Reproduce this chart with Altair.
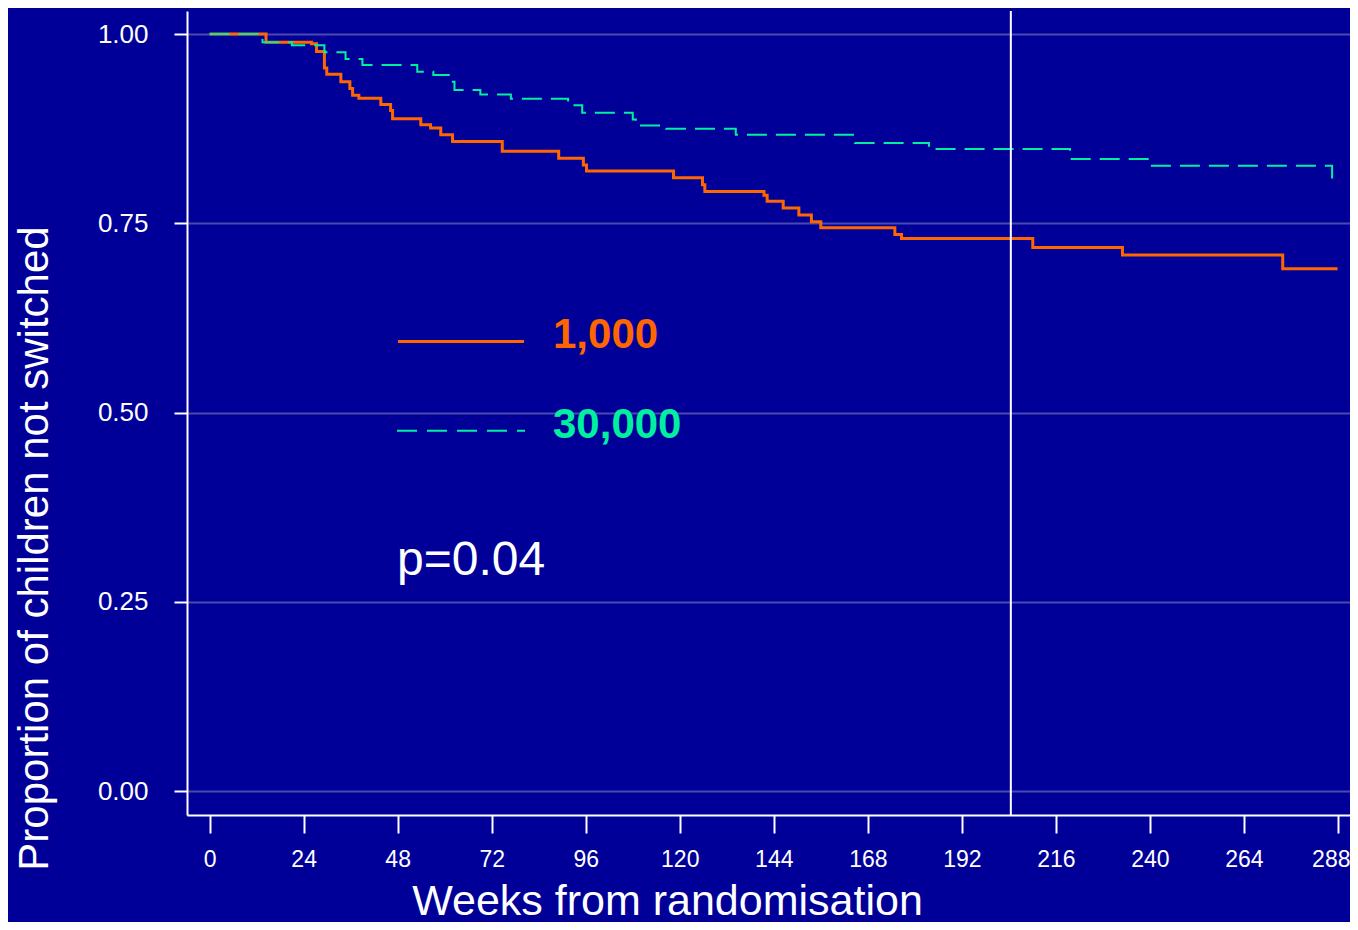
import altair as alt
import pandas as pd

# ---- data ----
low_weeks = [0, 14.4, 26.0, 27.3, 29.3, 29.9, 33.5, 35.8, 36.5, 38.1, 43.7, 46.2, 46.7,
             53.9, 56.4, 59.0, 62.0, 74.7, 89.1, 95.4, 96.2, 118.4, 125.8, 126.4,
             141.5, 142.3, 146.4, 150.4, 153.6, 156.0, 174.9, 176.6, 210.1, 233.0,
             273.9, 287.9]
low_surv = [1.0, 0.989, 0.987, 0.977, 0.955, 0.947, 0.937, 0.928, 0.919, 0.915, 0.907,
            0.899, 0.888, 0.880, 0.876, 0.867, 0.858, 0.845, 0.836, 0.827, 0.819, 0.810,
            0.801, 0.792, 0.787, 0.779, 0.770, 0.761, 0.752, 0.744, 0.735, 0.730, 0.718,
            0.708, 0.690, 0.690]

high_weeks = [0, 12.3, 13.5, 21.0, 29.3, 34.7, 39.0, 53.0, 57.1, 61.8, 62.5, 69.1, 76.9,
              91.5, 95.1, 108.0, 108.8, 116.5, 134.3, 164.7, 183.6, 219.6, 240.0, 286.5]
high_surv = [1.0, 0.995, 0.989, 0.985, 0.976, 0.967, 0.959, 0.950, 0.946, 0.937, 0.926,
             0.920, 0.9145, 0.906, 0.896, 0.887, 0.879, 0.875, 0.867, 0.856, 0.848, 0.835,
             0.826, 0.803]

ref_week = [204.5]
x_ticks = [0, 24, 48, 72, 96, 120, 144, 168, 192, 216, 240, 264, 288]
y_ticks = [0.0, 0.25, 0.50, 0.75, 1.00]
legend_labels = ["1,000", "30,000"]
p_label = ["p=0.04"]
x_title = "Weeks from randomisation"
y_title = "Proportion of children not switched"

BG = "#000099"
ORANGE = "#FF6600"
GREEN = "#00F0A0"
FONT = "Liberation Sans"

low_df = pd.DataFrame({"week": low_weeks, "surv": low_surv})
high_df = pd.DataFrame({"week": high_weeks, "surv": high_surv})
ref_df = pd.DataFrame({"week": ref_week})

x_scale = alt.Scale(domain=[-5.77, 291.07], nice=False, zero=False)
y_scale = alt.Scale(domain=[-0.0317, 1.0304], nice=False, zero=False)

x_axis = alt.Axis(values=x_ticks, title=x_title, grid=False,
                  labelFont=FONT, labelFontSize=23, labelColor="white",
                  labelPadding=15, tickSize=18, tickWidth=2, tickColor="white",
                  labelFlush=15, labelFlushOffset=12,
                  domainColor="white", domainWidth=2,
                  titleFont=FONT, titleFontSize=43, titleFontWeight="normal",
                  titleColor="white", titleX=480, titleY=99,
                  titleBaseline="alphabetic", titleAlign="center")
y_axis = alt.Axis(values=y_ticks, format=".2f", title=y_title, grid=True,
                  gridColor="#4A4AAE", gridWidth=2,
                  labelFont=FONT, labelFontSize=26, labelColor="white",
                  labelPadding=26, tickSize=13, tickWidth=2, tickColor="white",
                  domainColor="white", domainWidth=2,
                  titleFont=FONT, titleFontSize=42, titleFontWeight="normal",
                  titleColor="white", titleX=-140, titleY=537, titleAngle=270,
                  titleBaseline="alphabetic", titleAlign="center")

base_low = alt.Chart(low_df).mark_line(
    interpolate="step-after", color=ORANGE, strokeWidth=3
).encode(
    x=alt.X("week:Q", scale=x_scale, axis=x_axis),
    y=alt.Y("surv:Q", scale=y_scale, axis=y_axis),
)

line_high = alt.Chart(high_df).mark_line(
    interpolate="step-after", color=GREEN, strokeWidth=2, strokeDash=[20, 9]
).encode(
    x=alt.X("week:Q", scale=x_scale),
    y=alt.Y("surv:Q", scale=y_scale),
)

vline = alt.Chart(ref_df).mark_rule(color="white", strokeWidth=2).encode(
    x=alt.X("week:Q", scale=x_scale)
)

leg_low_line = alt.Chart(pd.DataFrame({"lab": [legend_labels[0]]})).mark_rule(
    color=ORANGE, strokeWidth=3
).encode(x=alt.value(211), x2=alt.value(337), y=alt.value(330.5))

leg_high_line = alt.Chart(pd.DataFrame({"lab": [legend_labels[1]]})).mark_rule(
    color=GREEN, strokeWidth=2, strokeDash=[20, 10]
).encode(x=alt.value(210), x2=alt.value(338), y=alt.value(419.7))

leg_low_text = alt.Chart(pd.DataFrame({"lab": [legend_labels[0]]})).mark_text(
    font=FONT, fontSize=42, fontWeight="bold", color=ORANGE,
    align="left", baseline="alphabetic"
).encode(text="lab:N", x=alt.value(366), y=alt.value(337.3))

leg_high_text = alt.Chart(pd.DataFrame({"lab": [legend_labels[1]]})).mark_text(
    font=FONT, fontSize=42, fontWeight="bold", color=GREEN,
    align="left", baseline="alphabetic"
).encode(text="lab:N", x=alt.value(366), y=alt.value(427.3))

p_text = alt.Chart(pd.DataFrame({"lab": p_label})).mark_text(
    font=FONT, fontSize=48, color="white", align="left", baseline="alphabetic"
).encode(text="lab:N", x=alt.value(210), y=alt.value(564))

chart = alt.layer(
    base_low, line_high, vline,
    leg_low_line, leg_high_line, leg_low_text, leg_high_text, p_text
).properties(
    width=1163, height=804,
    padding={"left": 179, "top": 3, "right": 0, "bottom": 107},
    autosize=alt.AutoSizeParams(type="none"),
    background=BG,
).configure_view(stroke=None)

chart.save("out.html", embed_options={"renderer": "svg", "actions": False})
